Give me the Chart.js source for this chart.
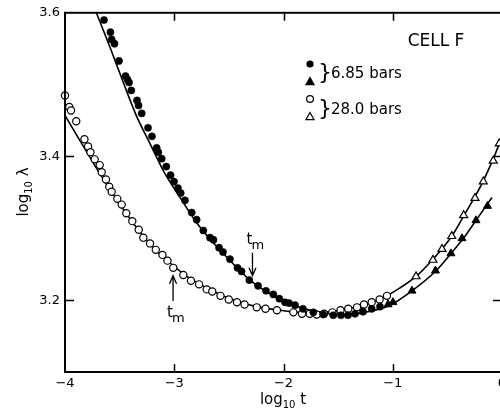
<!DOCTYPE html>
<html><head><meta charset="utf-8">
<script src="https://cdn.jsdelivr.net/npm/chart.js@4.4.1/dist/chart.umd.min.js"></script>
<style>html,body{margin:0;padding:0;overflow:hidden;background:#fff}#wrap{width:520px;height:413px;position:relative}</style>
</head><body><div id="wrap"><canvas id="c" width="520" height="413"></canvas></div>
<script>
// Tick values
const xTicks = [-4, -3, -2, -1, 0];
const yTicks = [3.2, 3.4, 3.6];

// 6.85 bars: filled circles
const fc685T = [-3.643,-3.584,-3.573,-3.547,-3.506,-3.446,-3.428,-3.414,-3.393,-3.341,-3.327,-3.298,-3.240,-3.204,-3.161,-3.146,-3.115,-3.073,-3.034,-3.002,-2.966,-2.941,-2.902,-2.840,-2.795,-2.734,-2.673,-2.641,-2.590,-2.554,-2.490,-2.421,-2.384,-2.313,-2.233,-2.160,-2.093,-2.038,-1.986,-1.950,-1.895,-1.822,-1.727,-1.636,-1.544,-1.474,-1.410,-1.346,-1.272,-1.193,-1.117];
const fc685L = [3.590,3.573,3.563,3.557,3.533,3.512,3.507,3.503,3.492,3.478,3.471,3.460,3.440,3.428,3.412,3.406,3.397,3.386,3.374,3.365,3.356,3.349,3.339,3.322,3.312,3.297,3.287,3.284,3.273,3.267,3.257,3.245,3.240,3.228,3.220,3.213,3.208,3.202,3.197,3.196,3.193,3.188,3.183,3.180,3.179,3.179,3.179,3.181,3.184,3.188,3.191];
// 6.85 bars: filled triangles
const ft685T = [-1.043,-0.998,-0.824,-0.609,-0.467,-0.366,-0.238,-0.133];
const ft685L = [3.194,3.197,3.213,3.241,3.265,3.286,3.311,3.331];
// 6.85 bars: fitted curve
const fit685T = [-3.710,-3.588,-3.466,-3.350,-3.222,-3.085,-2.947,-2.810,-2.673,-2.520,-2.307,-2.124,-1.941,-1.757,-1.574,-1.437,-1.254,-1.025,-0.824,-0.604,-0.467,-0.339,-0.238,-0.092];
const fit685L = [3.599,3.552,3.503,3.458,3.418,3.376,3.343,3.311,3.285,3.260,3.228,3.209,3.195,3.186,3.181,3.180,3.183,3.193,3.213,3.241,3.265,3.289,3.311,3.343];

// 28.0 bars: open circles
const oc280T = [-4.000,-3.961,-3.945,-3.897,-3.822,-3.789,-3.767,-3.728,-3.682,-3.664,-3.625,-3.595,-3.573,-3.521,-3.481,-3.439,-3.384,-3.325,-3.283,-3.222,-3.169,-3.108,-3.062,-3.009,-2.917,-2.847,-2.773,-2.703,-2.652,-2.577,-2.501,-2.426,-2.357,-2.245,-2.165,-2.060,-1.910,-1.831,-1.760,-1.696,-1.629,-1.553,-1.478,-1.407,-1.327,-1.263,-1.193,-1.120,-1.053];
const oc280L = [3.485,3.469,3.464,3.449,3.424,3.414,3.406,3.396,3.388,3.378,3.368,3.358,3.351,3.341,3.333,3.321,3.310,3.298,3.287,3.279,3.270,3.263,3.255,3.245,3.235,3.227,3.222,3.215,3.212,3.206,3.201,3.197,3.194,3.190,3.188,3.186,3.183,3.181,3.181,3.180,3.181,3.183,3.186,3.188,3.190,3.194,3.197,3.201,3.206];
// 28.0 bars: open triangles
const ot280T = [-0.787,-0.632,-0.549,-0.460,-0.351,-0.247,-0.171,-0.080,-0.025];
const ot280L = [3.233,3.256,3.271,3.289,3.318,3.342,3.365,3.394,3.418];
// 28.0 bars: fitted curve
const fit280T = [-4.000,-3.863,-3.725,-3.588,-3.451,-3.314,-3.176,-3.039,-2.902,-2.764,-2.581,-2.398,-2.215,-2.032,-1.849,-1.666,-1.483,-1.300,-1.117,-0.934,-0.787,-0.632,-0.460,-0.348,-0.174,-0.018,0.000];
const fit280L = [3.457,3.422,3.387,3.354,3.323,3.295,3.271,3.252,3.235,3.222,3.208,3.197,3.190,3.186,3.183,3.183,3.186,3.192,3.201,3.217,3.233,3.257,3.289,3.318,3.365,3.420,3.428];

// t_m markers (log t position, arrow from -> to in log lambda)
const tmT = [-2.284, -3.011];
const tmFrom = [3.266, 3.199];
const tmTo = [3.234, 3.234];

const pts = (T, L) => T.map((t, i) => ({x: t, y: L[i]}));
const FONT = '"DejaVu Sans", sans-serif';

function tri(ctx, x, y, r, fill) {
  ctx.beginPath();
  ctx.moveTo(x, y - r);
  ctx.lineTo(x + r * 0.9, y + r * 0.6);
  ctx.lineTo(x - r * 0.9, y + r * 0.6);
  ctx.closePath();
  ctx.fillStyle = fill ? '#000' : '#fff';
  ctx.fill();
  ctx.lineWidth = 1.2; ctx.strokeStyle = '#000'; ctx.stroke();
}

const decor = {
  id: 'decor',
  afterDraw(chart) {
    const ctx = chart.ctx, a = chart.chartArea;
    const xs = chart.scales.x, ys = chart.scales.y;
    ctx.save();
    ctx.strokeStyle = '#000'; ctx.fillStyle = '#000';
    // frame
    ctx.lineWidth = 2;
    ctx.strokeRect(a.left, a.top, a.right - a.left, a.bottom - a.top);
    // inward ticks
    ctx.lineWidth = 1.5;
    ctx.beginPath();
    xTicks.slice(1, -1).forEach(v => {
      const px = Math.round(xs.getPixelForValue(v)) + 0.5;
      ctx.moveTo(px, a.bottom); ctx.lineTo(px, a.bottom - 8);
      ctx.moveTo(px, a.top); ctx.lineTo(px, a.top + 8);
    });
    yTicks.slice(0, -1).forEach(v => {
      const py = Math.round(ys.getPixelForValue(v)) + 0.5;
      ctx.moveTo(a.left, py); ctx.lineTo(a.left + 9, py);
      ctx.moveTo(a.right, py); ctx.lineTo(a.right - 9, py);
    });
    ctx.stroke();

    // axis titles with subscript
    function sub(parts, cx, cy) {
      let w = 0;
      parts.forEach(p => { ctx.font = p[1] + 'px ' + FONT; w += ctx.measureText(p[0]).width; });
      let x = cx - w / 2;
      ctx.textAlign = 'left'; ctx.textBaseline = 'alphabetic';
      parts.forEach(p => { ctx.font = p[1] + 'px ' + FONT; ctx.fillText(p[0], x, cy + p[2]); x += ctx.measureText(p[0]).width; });
    }
    sub([['log', 15, 0], ['10', 10, 4], [' t', 15, 0]], 283, 404);
    ctx.save();
    ctx.translate(28, 192); ctx.rotate(-Math.PI / 2);
    sub([['log', 15, 0], ['10', 10, 4], [' λ', 15, 0]], 0, 0);
    ctx.restore();

    // legend
    ctx.font = '17px ' + FONT; ctx.textAlign = 'center'; ctx.textBaseline = 'middle';
    ctx.fillText('CELL F', 436, 42);
    ctx.beginPath(); ctx.arc(310, 64, 3.6, 0, 2 * Math.PI); ctx.fill();
    tri(ctx, 310, 82, 4.5, true);
    ctx.beginPath(); ctx.arc(310, 99, 3.4, 0, 2 * Math.PI); ctx.fillStyle = '#fff'; ctx.fill(); ctx.lineWidth = 1.2; ctx.stroke();
    tri(ctx, 310, 117, 4.5, false);
    ctx.fillStyle = '#000';
    ctx.font = '22px ' + FONT; ctx.textAlign = 'left';
    ctx.fillText('}', 318, 73);
    ctx.fillText('}', 318, 109);
    ctx.font = '15px ' + FONT;
    ctx.fillText('6.85 bars', 331, 74);
    ctx.fillText('28.0 bars', 331, 110);

    // t_m arrows
    ctx.lineWidth = 1.3;
    tmT.forEach((t, i) => {
      const px = xs.getPixelForValue(t);
      const y0 = ys.getPixelForValue(tmFrom[i]), y1 = ys.getPixelForValue(tmTo[i]);
      const d = y1 > y0 ? 1 : -1;
      ctx.beginPath();
      ctx.moveTo(px, y0); ctx.lineTo(px, y1);
      ctx.moveTo(px - 3.5, y1 - d * 8); ctx.lineTo(px, y1); ctx.lineTo(px + 3.5, y1 - d * 8);
      ctx.stroke();
      const ly = d > 0 ? y0 - 9 : y0 + 16;
      ctx.textAlign = 'left'; ctx.textBaseline = 'alphabetic';
      ctx.font = '15px ' + FONT; ctx.fillText('t', px - 6, ly);
      ctx.font = '13px ' + FONT; ctx.fillText('m', px - 1, ly + 5);
    });
    ctx.restore();
  }
};

new Chart(document.getElementById('c'), {
  type: 'scatter',
  data: {
    datasets: [
      {label: '6.85 bars', data: pts(fc685T, fc685L), pointStyle: 'circle', pointRadius: 3.6, backgroundColor: '#000', borderColor: '#000', borderWidth: 0.5, order: 1, clip: false},
      {label: '6.85 bars', data: pts(ft685T, ft685L), pointStyle: 'triangle', pointRadius: 4.6, backgroundColor: '#000', borderColor: '#000', borderWidth: 1, order: 1, clip: false},
      {label: '28.0 bars', data: pts(oc280T, oc280L), pointStyle: 'circle', pointRadius: 3.6, backgroundColor: '#fff', borderColor: '#000', borderWidth: 1.2, order: 2, clip: false},
      {label: '28.0 bars', data: pts(ot280T, ot280L), pointStyle: 'triangle', pointRadius: 4.6, backgroundColor: '#fff', borderColor: '#000', borderWidth: 1.2, order: 2, clip: false},
      {label: 'fit 6.85', data: pts(fit685T, fit685L), showLine: true, pointRadius: 0, borderColor: '#000', borderWidth: 1.6, cubicInterpolationMode: 'monotone', order: 10},
      {label: 'fit 28.0', data: pts(fit280T, fit280L), showLine: true, pointRadius: 0, borderColor: '#000', borderWidth: 1.6, cubicInterpolationMode: 'monotone', order: 10}
    ]
  },
  options: {
    responsive: false, animation: false,
    layout: {padding: {left: 0, right: 18, top: 10, bottom: 0}},
    plugins: {legend: {display: false}, tooltip: {enabled: false}},
    elements: {point: {hoverRadius: 0}},
    scales: {
      x: {
        type: 'linear', min: -4, max: 0,
        grid: {display: false, drawTicks: false}, border: {display: false},
        afterBuildTicks: s => { s.ticks = xTicks.map(v => ({value: v})); },
        afterFit: s => { s.height = 41; },
        ticks: {padding: 4, color: '#000', font: {family: FONT, size: 13}, callback: v => String(v).replace('-', '\u2212')}
      },
      y: {
        type: 'linear', min: 3.1, max: 3.6,
        grid: {display: false, drawTicks: false}, border: {display: false},
        afterBuildTicks: s => { s.ticks = yTicks.map(v => ({value: v})); },
        afterFit: s => { s.width = 65; },
        ticks: {padding: 5, color: '#000', font: {family: FONT, size: 13}, callback: v => v.toFixed(1)}
      }
    }
  },
  plugins: [decor]
});
</script>
</body></html>
